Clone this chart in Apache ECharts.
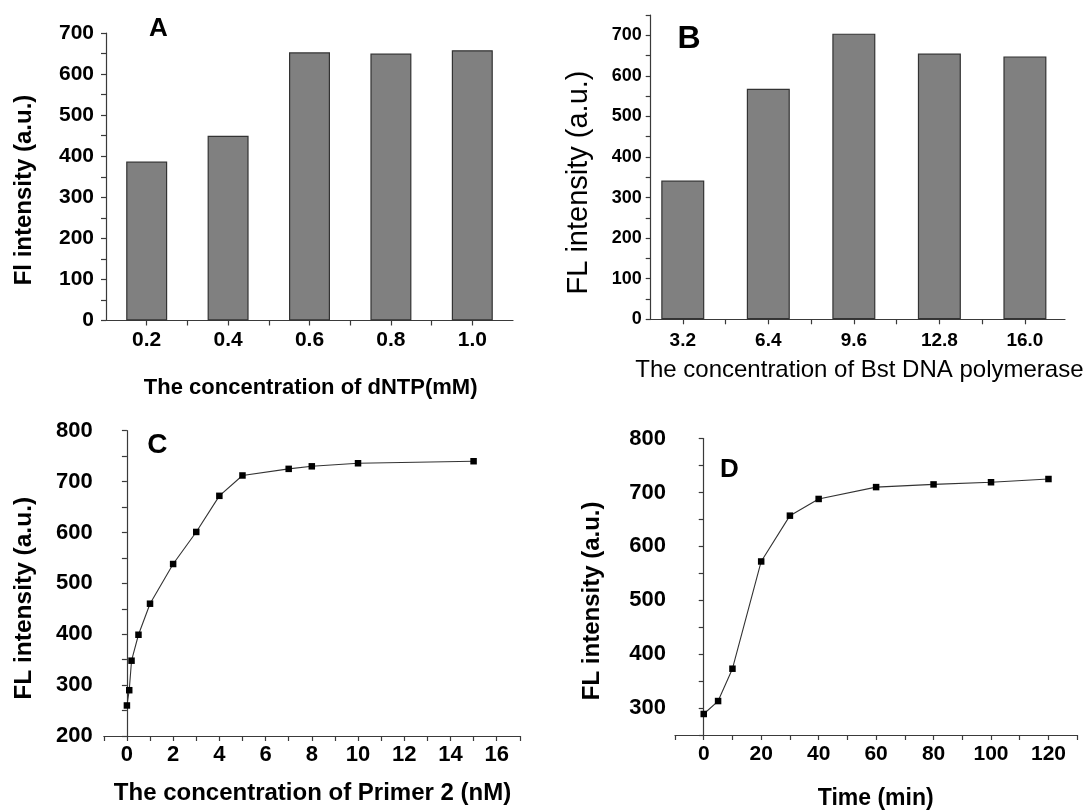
<!DOCTYPE html>
<html>
<head>
<meta charset="utf-8">
<script src="https://cdn.jsdelivr.net/npm/echarts@6/dist/echarts.min.js"></script>
<style>
html,body{margin:0;padding:0;background:#fff;}
#chart{width:1092px;height:811px;}
</style>
</head>
<body>
<div id="chart"></div>
<script>
// ---- data ----
const dntpConc = [0.2, 0.4, 0.6, 0.8, 1.0];
const dntpFL = [387, 450, 653, 650, 658];
const dntpTickValues = [0.2, 0.3, 0.4, 0.5, 0.6, 0.7, 0.8, 0.9, 1.0];

const bstConc = [3.2, 6.4, 9.6, 12.8, 16.0];
const bstFL = [342, 568, 704, 655, 648];
const bstTickValues = [3.2, 4.8, 6.4, 8.0, 9.6, 11.2, 12.8, 14.4, 16.0];

const primerConc = [0, 0.1, 0.2, 0.5, 1, 2, 3, 4, 5, 7, 8, 10, 15];
const primerFL = [260, 290, 348, 399, 460, 538, 601, 672, 712, 725, 730, 736, 740];

const timeMin = [0, 5, 10, 20, 30, 40, 60, 80, 100, 120];
const timeFL = [289, 313, 373, 572, 657, 688, 710, 715, 719, 725];

const panelLetters = ['A', 'B', 'C', 'D'];
const yTitles = ['Fl intensity (a.u.)', 'FL intensity (a.u.)', 'FL intensity (a.u.)', 'FL intensity (a.u.)'];
const xTitles = ['The concentration of dNTP(mM)', 'The concentration of Bst DNA polymerase', 'The concentration of Primer 2 (nM)', 'Time (min)'];

// ---- styling helpers ----
const FONT = '"Liberation Sans", Arial, Helvetica, sans-serif';
const AXIS_COLOR = '#3a3a3a';

function yAxisCfg(gridIndex, min, max, fontSize, margin) {
  return {
    type: 'value', gridIndex: gridIndex, min: min, max: max, interval: 50,
    axisLine: { show: true, lineStyle: { color: AXIS_COLOR, width: 1.2 } },
    axisTick: { show: true, length: 5, lineStyle: { color: AXIS_COLOR, width: 1.2 } },
    splitLine: { show: false },
    axisLabel: {
      margin: margin, color: '#000', fontFamily: FONT, fontWeight: 'bold', fontSize: fontSize,
      formatter: v => (Math.round(v) % 100 === 0 ? String(Math.round(v)) : '')
    }
  };
}

function zip(xs, ys) { return xs.map((x, i) => [x, ys[i]]); }

const option = {
  backgroundColor: '#fff',
  animation: false,
  grid: [
    { left: 106, top: 33, width: 407, height: 287.5, outerBoundsMode: 'none', containLabel: false },
    { left: 650.7, top: 15, width: 414.3, height: 304.3, outerBoundsMode: 'none', containLabel: false },
    { left: 103.8, top: 430.7, width: 416, height: 305.3, outerBoundsMode: 'none', containLabel: false },
    { left: 675, top: 438.6, width: 402.2, height: 296.4, outerBoundsMode: 'none', containLabel: false }
  ],
  xAxis: [
    {
      type: 'value', gridIndex: 0, min: 0.1, max: 1.1,
      axisLine: { show: true, onZero: false, lineStyle: { color: AXIS_COLOR, width: 1.2 } },
      axisTick: { show: true, length: 5, customValues: dntpTickValues, lineStyle: { color: AXIS_COLOR, width: 1.2 } },
      splitLine: { show: false },
      axisLabel: { customValues: dntpConc, margin: 9, color: '#000', fontFamily: FONT, fontWeight: 'bold', fontSize: 21,
        formatter: v => Number(v).toFixed(1) }
    },
    {
      type: 'value', gridIndex: 1, min: 2.0, max: 17.5,
      axisLine: { show: true, onZero: false, lineStyle: { color: AXIS_COLOR, width: 1.2 } },
      axisTick: { show: true, length: 5, customValues: bstTickValues, lineStyle: { color: AXIS_COLOR, width: 1.2 } },
      splitLine: { show: false },
      axisLabel: { customValues: bstConc, margin: 12, color: '#000', fontFamily: FONT, fontWeight: 'bold', fontSize: 19,
        formatter: v => Number(v).toFixed(1) }
    },
    {
      type: 'value', gridIndex: 2, min: -1, max: 17, interval: 1,
      axisLine: { show: true, onZero: false, lineStyle: { color: AXIS_COLOR, width: 1.2 } },
      axisTick: { show: true, length: 5, lineStyle: { color: AXIS_COLOR, width: 1.2 } },
      splitLine: { show: false },
      axisLabel: { margin: 8, color: '#000', fontFamily: FONT, fontWeight: 'bold', fontSize: 22,
        formatter: v => (v >= 0 && Math.round(v) % 2 === 0 ? String(Math.round(v)) : '') }
    },
    {
      type: 'value', gridIndex: 3, min: -10, max: 130, interval: 10,
      axisLine: { show: true, onZero: false, lineStyle: { color: AXIS_COLOR, width: 1.2 } },
      axisTick: { show: true, length: 5, lineStyle: { color: AXIS_COLOR, width: 1.2 } },
      splitLine: { show: false },
      axisLabel: { margin: 9, color: '#000', fontFamily: FONT, fontWeight: 'bold', fontSize: 21,
        formatter: v => (v >= 0 && Math.round(v) % 20 === 0 ? String(Math.round(v)) : '') }
    }
  ],
  yAxis: [
    yAxisCfg(0, 0, 700, 21, 12),
    yAxisCfg(1, 0, 750, 18, 9),
    yAxisCfg(2, 200, 800, 22, 11),
    yAxisCfg(3, 250, 800, 22, 9)
  ],
  series: [
    {
      type: 'bar', xAxisIndex: 0, yAxisIndex: 0, barWidth: 41,
      data: zip(dntpConc, dntpFL),
      itemStyle: { color: '#808080', borderColor: '#333', borderWidth: 1.2 }
    },
    {
      type: 'bar', xAxisIndex: 1, yAxisIndex: 1, barWidth: 43,
      data: zip(bstConc, bstFL),
      itemStyle: { color: '#808080', borderColor: '#333', borderWidth: 1.2 }
    },
    {
      type: 'line', xAxisIndex: 2, yAxisIndex: 2,
      data: zip(primerConc, primerFL),
      symbol: 'rect', symbolSize: 6.5, showAllSymbol: true,
      lineStyle: { color: '#333', width: 1.1 },
      itemStyle: { color: '#000' }
    },
    {
      type: 'line', xAxisIndex: 3, yAxisIndex: 3,
      data: zip(timeMin, timeFL),
      symbol: 'rect', symbolSize: 6.5, showAllSymbol: true,
      lineStyle: { color: '#333', width: 1.1 },
      itemStyle: { color: '#000' }
    }
  ],
  graphic: [
    // panel letters
    { type: 'text', x: 158.4, y: 29, style: { text: panelLetters[0], font: 'bold 26px ' + FONT, fill: '#000', align: 'center', verticalAlign: 'middle' } },
    { type: 'text', x: 689, y: 39, style: { text: panelLetters[1], font: 'bold 32px ' + FONT, fill: '#000', align: 'center', verticalAlign: 'middle' } },
    { type: 'text', x: 157.4, y: 445, style: { text: panelLetters[2], font: 'bold 28px ' + FONT, fill: '#000', align: 'center', verticalAlign: 'middle' } },
    { type: 'text', x: 729.5, y: 470, style: { text: panelLetters[3], font: 'bold 26px ' + FONT, fill: '#000', align: 'center', verticalAlign: 'middle' } },
    // y-axis titles
    { type: 'text', x: 24.4, y: 190, rotation: Math.PI / 2, style: { text: yTitles[0], font: 'bold 24px ' + FONT, fill: '#000', align: 'center', verticalAlign: 'middle' } },
    { type: 'text', x: 579, y: 182.5, rotation: Math.PI / 2, style: { text: yTitles[1], font: '29px ' + FONT, fill: '#000', align: 'center', verticalAlign: 'middle' } },
    { type: 'text', x: 24, y: 598.3, rotation: Math.PI / 2, style: { text: yTitles[2], font: 'bold 24.5px ' + FONT, fill: '#000', align: 'center', verticalAlign: 'middle' } },
    { type: 'text', x: 592, y: 600.8, rotation: Math.PI / 2, style: { text: yTitles[3], font: 'bold 24px ' + FONT, fill: '#000', align: 'center', verticalAlign: 'middle' } },
    // x-axis titles
    { type: 'text', x: 310.7, y: 388, style: { text: xTitles[0], font: 'bold 22px ' + FONT, fill: '#000', align: 'center', verticalAlign: 'middle' } },
    { type: 'text', x: 859.4, y: 370, style: { text: xTitles[1], font: '24px ' + FONT, fill: '#000', align: 'center', verticalAlign: 'middle' } },
    { type: 'text', x: 312.5, y: 793.3, style: { text: xTitles[2], font: 'bold 24px ' + FONT, fill: '#000', align: 'center', verticalAlign: 'middle' } },
    { type: 'text', x: 875.7, y: 798.3, style: { text: xTitles[3], font: 'bold 23px ' + FONT, fill: '#000', align: 'center', verticalAlign: 'middle' } }
  ]
};

const chart = echarts.init(document.getElementById('chart'), null, { renderer: 'canvas' });
chart.setOption(option);
</script>
</body>
</html>
